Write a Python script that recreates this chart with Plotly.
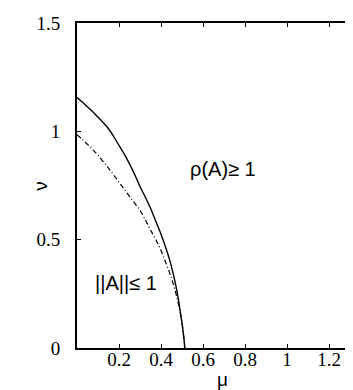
import plotly.graph_objects as go

# Boundary of rho(A) >= 1 (solid)
mu_rho = [0, 0.025, 0.05, 0.075, 0.10, 0.125, 0.15, 0.175, 0.20, 0.225, 0.25, 0.275, 0.30,
          0.325, 0.35, 0.375, 0.40, 0.42, 0.44, 0.455, 0.47, 0.48, 0.49, 0.50, 0.507, 0.511, 0.513]
nu_rho = [1.156, 1.135, 1.112, 1.09, 1.065, 1.04, 1.012, 0.975, 0.935, 0.895, 0.85, 0.80, 0.745,
          0.697, 0.645, 0.585, 0.525, 0.47, 0.41, 0.355, 0.29, 0.24, 0.178, 0.115, 0.06, 0.025, 0.0]

# Boundary of ||A|| <= 1 (dash-dot)
mu_norm = [0, 0.025, 0.05, 0.075, 0.10, 0.125, 0.15, 0.175, 0.20, 0.225, 0.25, 0.275, 0.30,
           0.325, 0.35, 0.375, 0.40, 0.42, 0.44, 0.455, 0.47, 0.48, 0.49, 0.50, 0.507, 0.511, 0.513]
nu_norm = [0.985, 0.963, 0.94, 0.915, 0.89, 0.86, 0.83, 0.798, 0.765, 0.733, 0.70, 0.668, 0.635,
           0.592, 0.545, 0.50, 0.45, 0.40, 0.35, 0.305, 0.255, 0.215, 0.17, 0.115, 0.06, 0.025, 0.0]

x_ticks = [0.2, 0.4, 0.6, 0.8, 1.0, 1.2]
x_ticklabels = ["0.2", "0.4", "0.6", "0.8", "1", "1.2"]
y_ticks = [0, 0.5, 1.0, 1.5]
y_ticklabels = ["0", "0.5", "1", "1.5"]

region_labels = ["ρ(A)≥ 1", "||A||≤ 1"]
region_x = [0.695, 0.233]
region_y = [0.825, 0.302]

x_title = "μ"
y_title = "ν"

SERIF = "Liberation Serif"
SANS = "Liberation Sans"

fig = go.Figure()
fig.add_trace(go.Scatter(x=mu_rho, y=nu_rho, mode="lines",
                         line=dict(color="black", width=1.4, shape="spline", smoothing=1.0),
                         showlegend=False, hoverinfo="skip"))
fig.add_trace(go.Scatter(x=mu_norm, y=nu_norm, mode="lines",
                         line=dict(color="black", width=1.2, dash="5px,2.5px,1px,2.5px",
                                   shape="spline", smoothing=1.0),
                         showlegend=False, hoverinfo="skip"))

for t, xx, yy in zip(region_labels, region_x, region_y):
    fig.add_annotation(x=xx, y=yy, text=t, showarrow=False, xref="x", yref="y",
                       font=dict(family=SANS, size=20, color="black"))

# axis titles placed as annotations in paper coordinates
fig.add_annotation(x=-0.1725, y=0.498, xref="paper", yref="paper", text=y_title,
                   showarrow=False, textangle=-90,
                   font=dict(family=SANS, size=19, color="black"))
fig.add_annotation(x=0.5106, y=-0.135, xref="paper", yref="paper", text=x_title,
                   showarrow=False,
                   font=dict(family=SANS, size=19, color="black"))

tick_font = dict(family=SERIF, size=19, color="black")

fig.update_layout(
    width=353, height=390,
    margin=dict(l=69, r=0, t=15, b=50),
    paper_bgcolor="white", plot_bgcolor="white",
    showlegend=False,
    font=dict(family=SERIF),
    xaxis=dict(range=[0, 1.352], tickvals=x_ticks, ticktext=x_ticklabels,
               ticks="inside", ticklen=4, tickwidth=1, tickcolor="black",
               showline=True, linecolor="black", linewidth=2, mirror="ticks",
               showgrid=False, zeroline=False, tickfont=tick_font,
               ticklabelstandoff=-7),
    yaxis=dict(range=[0, 1.5], tickvals=y_ticks, ticktext=y_ticklabels,
               ticks="inside", ticklen=4, tickwidth=1, tickcolor="black",
               showline=True, linecolor="black", linewidth=2, mirror=False,
               showgrid=False, zeroline=False, tickfont=tick_font,
               ticklabelstandoff=11),
)

fig.write_html("out.html")
